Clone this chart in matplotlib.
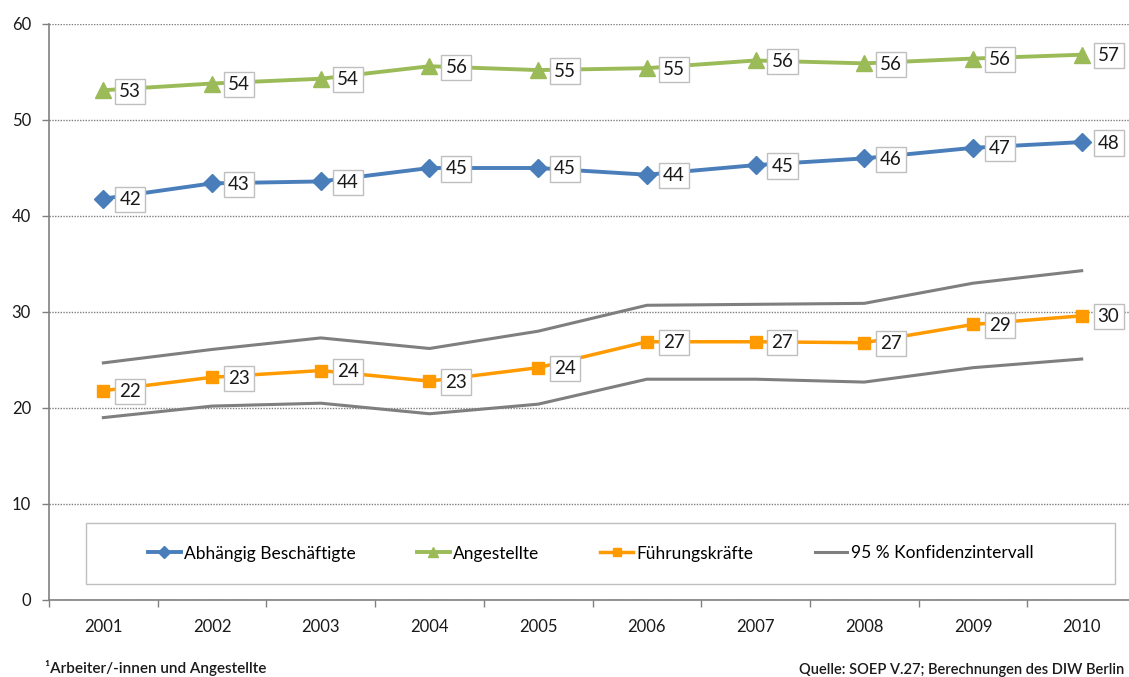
import matplotlib
matplotlib.use("Agg")
import matplotlib.pyplot as plt
import numpy as np
from matplotlib.lines import Line2D
from matplotlib.patches import Rectangle

plt.rcParams['font.family'] = ['Lato', 'DejaVu Sans']

years = ['2001', '2002', '2003', '2004', '2005', '2006', '2007', '2008', '2009', '2010']
abhaengig = [41.8, 43.4, 43.6, 45.0, 45.0, 44.3, 45.3, 46.0, 47.1, 47.7]
angestellte = [53.1, 53.8, 54.3, 55.6, 55.2, 55.4, 56.2, 55.9, 56.4, 56.8]
fuehrung = [21.8, 23.2, 23.9, 22.8, 24.2, 26.9, 26.9, 26.8, 28.7, 29.6]
ci_upper = [24.7, 26.1, 27.3, 26.2, 28.0, 30.7, 30.8, 30.9, 33.0, 34.3]
ci_lower = [19.0, 20.2, 20.5, 19.4, 20.4, 23.0, 23.0, 22.7, 24.2, 25.1]
yticks = [0, 10, 20, 30, 40, 50, 60]

c_blue = '#4A7EBB'
c_green = '#9BBB59'
c_orange = '#FF9A00'
c_gray = '#7F7F7F'

fig = plt.figure(figsize=(11.29, 6.77), dpi=100)
ax = fig.add_axes([49/1129, 1-600/677, 1087/1129, 576/677])

x = np.arange(len(years))

ax.plot(x, ci_upper, color=c_gray, lw=2.2, zorder=3)
ax.plot(x, ci_lower, color=c_gray, lw=2.2, zorder=3)
ax.plot(x, abhaengig, color=c_blue, lw=2.8, marker='D', ms=9, mec=c_blue, zorder=4)
ax.plot(x, angestellte, color=c_green, lw=2.8, marker='^', ms=11, mec=c_green, zorder=4)
ax.plot(x, fuehrung, color=c_orange, lw=2.5, marker='s', ms=9, mec=c_orange, zorder=4)

for series in (abhaengig, angestellte, fuehrung):
    for xi, v in zip(x, series):
        ax.annotate(f"{v:.0f}", (xi, v), xytext=(16, -1), textcoords='offset pixels',
                    ha='left', va='center', fontsize=13.5, color='#1a1a1a', zorder=6,
                    bbox=dict(boxstyle='square,pad=0.22', fc='white', ec='#BFBFBF', lw=1))

ax.set_xlim(-0.5, len(years) - 0.5)
ax.set_ylim(0, 60)
ax.set_yticks(yticks)
ax.set_yticklabels([str(t) for t in yticks], fontsize=12, color='#1a1a1a')
ax.set_xticks(x)
ax.set_xticklabels(years, fontsize=12, color='#1a1a1a')
ax.tick_params(axis='x', which='major', length=0, pad=14)
ax.set_xticks(np.arange(-0.5, len(years), 1.0), minor=True)
ax.tick_params(axis='x', which='minor', length=5, color='#808080', width=1)
ax.tick_params(axis='y', length=5, color='#808080', width=1, pad=8)

for spine in ('top', 'right'):
    ax.spines[spine].set_visible(False)
for spine in ('left', 'bottom'):
    ax.spines[spine].set_color('#808080')
    ax.spines[spine].set_linewidth(1.2)

ax.yaxis.grid(True, linestyle=(0, (1, 1)), color='#7F7F7F', lw=1)
ax.set_axisbelow(True)

# legend frame
lx0, ly0, lw_, lh_ = (86-49)/1087, (600-584)/576, 1029/1087, 61/576
frame = Rectangle((lx0, ly0), lw_, lh_, transform=ax.transAxes, fc='white',
                  ec='#BFBFBF', lw=1, zorder=6.5)
ax.add_patch(frame)

handles = [
    Line2D([], [], color=c_blue, lw=2.8, marker='D', ms=6),
    Line2D([], [], color=c_green, lw=2.8, marker='^', ms=7),
    Line2D([], [], color=c_orange, lw=2.5, marker='s', ms=6),
    Line2D([], [], color=c_gray, lw=2.2),
]
labels = ['Abhängig Beschäftigte', 'Angestellte', 'Führungskräfte', '95 % Konfidenzintervall']
leg = ax.legend(handles, labels, ncol=4, loc='center',
                bbox_to_anchor=(lx0 - 0.009, ly0, lw_, lh_),
                bbox_transform=ax.transAxes, fontsize=12.5,
                frameon=False, handlelength=1.9, handletextpad=0.2,
                columnspacing=3.5, borderaxespad=0)
leg.set_zorder(7)

fig.text(45/1129, 1-668/677, '¹Arbeiter/-innen und Angestellte', fontsize=11,
         fontweight='semibold', color='#1a1a1a', ha='left', va='center')
fig.text(1124/1129, 1-670/677, 'Quelle: SOEP V.27; Berechnungen des DIW Berlin', fontsize=10.5,
         fontweight='semibold', color='#1a1a1a', ha='right', va='center')

fig.savefig('out.png', dpi=100)
